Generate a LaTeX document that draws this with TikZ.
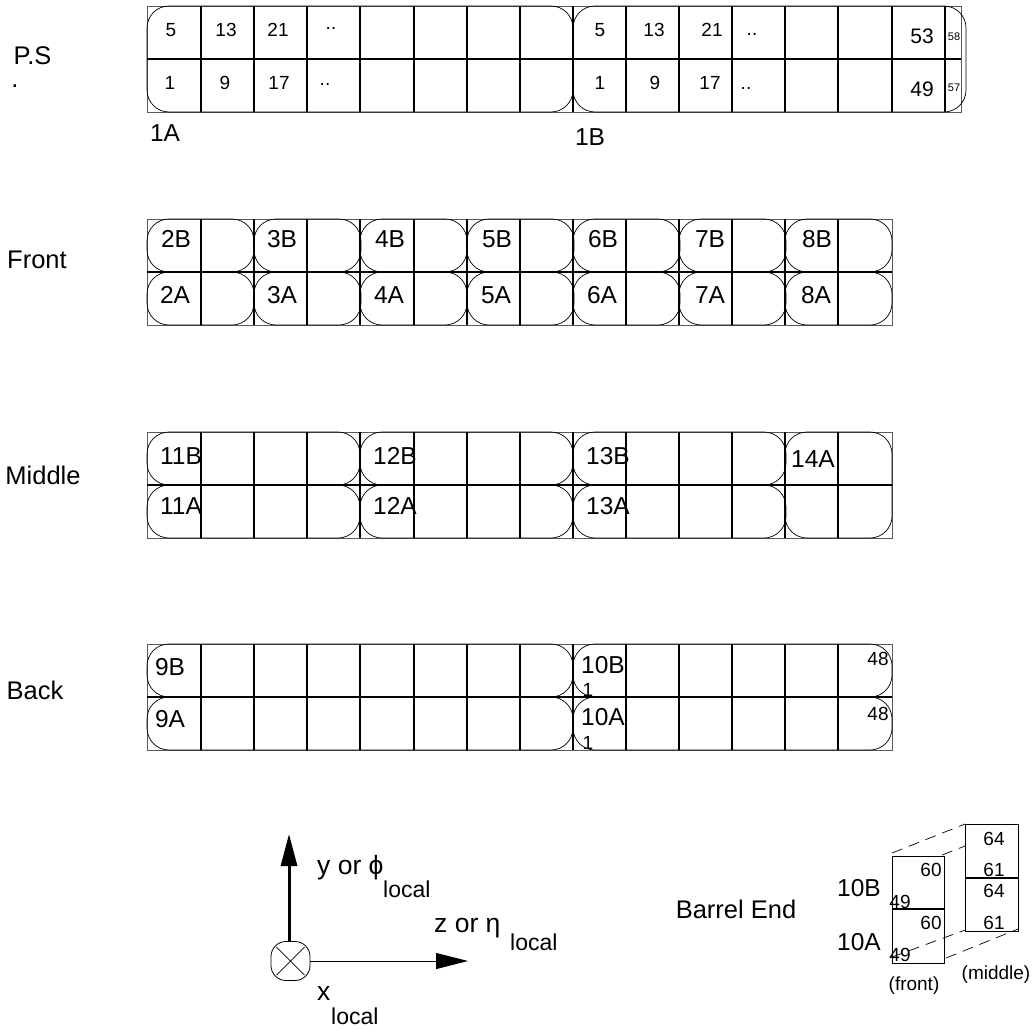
\documentclass[tikz,border=0pt]{standalone}
\usepackage{xcolor}
\usepackage{fontspec}
\setmainfont{Liberation Sans}
\usetikzlibrary{arrows.meta, positioning}
\tikzset{
  gridline/.style={line width=1.2pt, color=black},
  outerline/.style={line width=0.8pt, color=black!65},
  modbox/.style={draw=black, line width=0.7pt, rounded corners=22pt},
  cellnum/.style={inner sep=0pt, font=\fontsize{19}{21}\selectfont},
  tinynum/.style={inner sep=0pt, font=\fontsize{11}{13}\selectfont},
  modlabel/.style={inner sep=0pt, font=\fontsize{24.5}{26}\selectfont},
  rowlabel/.style={inner sep=0pt, font=\fontsize{25.5}{27}\selectfont},
  axlabel/.style={inner sep=0pt, anchor=west, font=\fontsize{26.5}{28}\selectfont},
  sublabel/.style={inner sep=0pt, anchor=west, font=\fontsize{23}{25}\selectfont},
  xbox/.style={draw=black, line width=0.8pt, rounded corners=15pt,
    minimum size=39pt, inner sep=0pt},
  dashline/.style={line width=0.7pt, dash pattern=on 11pt off 7pt},
  thickaxis/.style={-{Triangle[length=32pt,width=16pt]}, line width=3pt},
  thinaxis/.style={-{Triangle[length=32pt,width=16pt]}, line width=1pt}
}
\begin{document}
\begin{tikzpicture}[x=1pt,y=-1pt]
  \useasboundingbox (0,0) rectangle (1032,1030);
  % P.S
  \draw[outerline] (147,6) rectangle (961,112);
  \draw[gridline] (147,59) -- (961,59);
  \foreach \x in {201,254,307,360,414,467,520,573,626,679,732,785,838,892,945}
    \draw[gridline] (\x,6) -- (\x,112);
  \draw[modbox] (147,6) rectangle (573,112);
  \draw[modbox] (573,6) rectangle (966,112);
  \node[rowlabel] (ps) at (32.5,56) {P.S};
  \node[rowlabel] (psdot) at (15,86) {.};
  \node[modlabel] (onea) at (165,133) {1A};
  \node[modlabel] (oneb) at (590,137) {1B};
  \foreach \x/\t/\n in {171/5/a,226/13/b,278/21/c,600/5/d,654/13/e,712/21/f}
    \node[cellnum] (top\n) at (\x,30) {\t};
  \foreach \x/\t/\n in {170/1/a,225/9/b,279/17/c,600/1/d,655/9/e,710/17/f}
    \node[cellnum] (bot\n) at (\x,83) {\t};
  \node[cellnum] (dotsa) at (331,28) {..};
  \node[cellnum] (dotsb) at (325,84) {..};
  \node[cellnum] (dotsc) at (752,34) {..};
  \node[cellnum] (dotsd) at (746,88) {..};
  \node[modlabel, font=\fontsize{21}{23}\selectfont] (nfiftythree) at (922,36) {53};
  \node[modlabel, font=\fontsize{21}{23}\selectfont] (nfortynine) at (922,89) {49};
  \node[tinynum] (nfiftyeight) at (954,37) {58};
  \node[tinynum] (nfiftyseven) at (954,88) {57};
  % Front
  \draw[outerline] (147,219) rectangle (892,325);
  \draw[gridline] (147,272) -- (892,272);
  \foreach \x in {201,254,307,360,414,467,520,573,626,679,732,785,838}
    \draw[gridline] (\x,219) -- (\x,325);
  \foreach \x in {147,254,360,467,573,679,785}{
    \draw[modbox] (\x,219) rectangle ++(107,53);
    \draw[modbox] (\x,272) rectangle ++(107,53);
  }
  \node[rowlabel] (front) at (37,260) {Front};
  \foreach \x/\m in {176/2,282/3,390/4,497/5,603/6,710/7,817/8}
    \node[modlabel] (f\m b) at (\x,239) {\m B};
  \foreach \x/\m in {175/2,282/3,389/4,496/5,602/6,710/7,816/8}
    \node[modlabel] (f\m a) at (\x,295) {\m A};
  % Middle
  \draw[outerline] (147,432) rectangle (892,538);
  \draw[gridline] (147,485) -- (892,485);
  \foreach \x in {201,254,307,360,414,467,520,573,626,679,732,785,838}
    \draw[gridline] (\x,432) -- (\x,538);
  \foreach \x in {147,360,573}{
    \draw[modbox] (\x,432) rectangle ++(213,53);
    \draw[modbox] (\x,485) rectangle ++(213,53);
  }
  \draw[modbox] (785,432) rectangle (892,538);
  \node[rowlabel] (middle) at (43,475) {Middle};
  \foreach \x/\m in {181/11,395/12,608/13}{
    \node[modlabel] (m\m b) at (\x,456) {\m B};
    \node[modlabel] (m\m a) at (\x,506) {\m A};
  }
  \node[modlabel] (mfourteen) at (813,459) {14A};
  % Back
  \draw[outerline] (147,644) rectangle (892,750);
  \draw[gridline] (147,697) -- (892,697);
  \foreach \x in {201,254,307,360,414,467,520,573,626,679,732,785,838}
    \draw[gridline] (\x,644) -- (\x,750);
  \foreach \y in {644,697}{
    \draw[modbox] (147,\y) rectangle ++(426,53);
    \draw[modbox] (573,\y) rectangle ++(319,53);
  }
  \node[rowlabel] (back) at (35,690) {Back};
  \node[modlabel] (bnineb) at (170,667) {9B};
  \node[modlabel] (bninea) at (170,719) {9A};
  \node[modlabel] (btenb) at (603,665) {10B};
  \node[modlabel] (btena) at (603,717) {10A};
  \node[cellnum] (boneb) at (588,690) {1};
  \node[cellnum] (bonea) at (588,743) {1};
  \node[cellnum] (bfortyb) at (878,659) {48};
  \node[cellnum] (bfortya) at (878,714) {48};
  % local axes
  \node[xbox] (xlocal) at (290.5,961) {};
  \draw[line width=0.7pt] (xlocal.center) ++(-14,-14) -- ++(28,28);
  \draw[line width=0.7pt] (xlocal.center) ++(14,-14) -- ++(-28,28);
  \coordinate (ytip) at (289,834);
  \coordinate (ztip) at (468,961);
  \draw[thickaxis] (xlocal.north -| ytip) -- (ytip);
  \draw[thinaxis] (xlocal.east) -- (ztip);
  \node[axlabel] (ylabel) at (317,868) {y or ϕ};
  \node[sublabel] (ysub) at (383,889) {local};
  \node[axlabel] (zlabel) at (434,928) {z or η};
  \node[sublabel] (zsub) at (510,942) {local};
  \node[axlabel] (xlabel) at (317,993) {x};
  \node[sublabel] (xsub) at (331,1016) {local};
  % Barrel End
  \node[rowlabel] (barrel) at (736,909) {Barrel End};
  \draw[line width=1pt] (892,856) rectangle (944,963);
  \draw[gridline] (892,909) -- (944,909);
  \draw[line width=1pt] (965,824) rectangle (1018,931);
  \draw[gridline] (965,878) -- (1018,878);
  \draw[dashline] (892,853) -- (965,824);
  \draw[dashline] (942,855) -- (965,846);
  \draw[dashline] (892,957) -- (965,930);
  \draw[dashline] (946,958) -- (1018,929);
  \node[modlabel] (endb) at (859,888) {10B};
  \node[modlabel] (enda) at (859,942) {10A};
  \node[cellnum] (esixtyb) at (931,870) {60};
  \node[cellnum] (efortyb) at (900,902) {49};
  \node[cellnum] (esixtya) at (931,923) {60};
  \node[cellnum] (efortya) at (900,955) {49};
  \node[cellnum] (msixtyfourb) at (994,839) {64};
  \node[cellnum] (msixtyoneb) at (994,870) {61};
  \node[cellnum] (msixtyfoura) at (994,891) {64};
  \node[cellnum] (msixtyonea) at (994,923) {61};
  \node[cellnum] (frontcap) at (914,986) {(front)};
  \node[cellnum] (middlecap) at (996,975) {(middle)};
\end{tikzpicture}
\end{document}
